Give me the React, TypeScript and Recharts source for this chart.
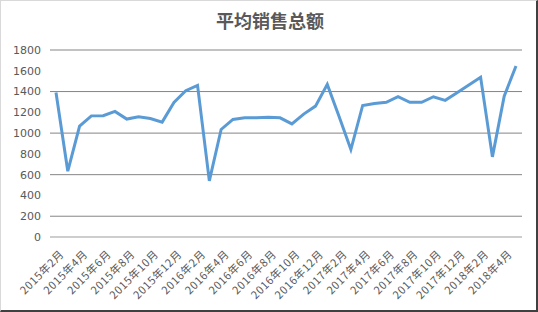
import React from "react";
import { LineChart, Line, XAxis, YAxis, CartesianGrid } from "recharts";

const months: string[] = [
  "2015年2月","2015年3月","2015年4月","2015年5月","2015年6月","2015年7月","2015年8月","2015年9月","2015年10月","2015年11月","2015年12月",
  "2016年1月","2016年2月","2016年3月","2016年4月","2016年5月","2016年6月","2016年7月","2016年8月","2016年9月","2016年10月","2016年11月","2016年12月",
  "2017年1月","2017年2月","2017年3月","2017年4月","2017年5月","2017年6月","2017年7月","2017年8月","2017年9月","2017年10月","2017年11月","2017年12月",
  "2018年1月","2018年2月","2018年3月","2018年4月","2018年5月",
];

const avgSales: number[] = [
  1390, 633, 1067, 1166, 1168, 1209, 1135, 1157, 1141, 1106, 1296,
  1408, 1459, 540, 1035, 1132, 1147, 1147, 1152, 1147, 1089, 1183, 1260,
  1469, 1160, 842, 1266, 1286, 1296, 1350, 1296, 1296, 1350, 1315, 1388,
  1462, 1537, 771, 1356, 1646,
];

const yTicks: number[] = [0, 200, 400, 600, 800, 1000, 1200, 1400, 1600, 1800];

const data = months.map((m, i) => ({ month: m, value: avgSales[i] }));

const XTick = (props: any) => {
  const { x, y, payload } = props;
  return (
    <g transform={`translate(${x + 6},${y + 7})`}>
      <text
        x={0}
        y={0}
        dy={4}
        textAnchor="end"
        fill="#595959"
        fontSize={11}
        letterSpacing={0.6}
        fontFamily="'Noto Sans CJK SC', 'DejaVu Sans', sans-serif"
        transform="rotate(-45)"
      >
        {payload.value}
      </text>
    </g>
  );
};

export default function App() {
  return (
    <div
      style={{
        position: "absolute",
        left: 0,
        top: 0,
        width: 538,
        height: 312,
        background: "#fff",
        boxSizing: "border-box",
        borderLeft: "1px solid #d9d9d9",
        borderTop: "1px solid #d9d9d9",
        borderRight: "2px solid #404040",
        borderBottom: "2px solid #404040",
        overflow: "hidden",
      }}
    >
      <div
        style={{
          position: "absolute",
          left: 0,
          width: 538,
          top: 7,
          textAlign: "center",
          fontFamily: "'Noto Sans CJK SC', sans-serif",
          fontWeight: "bold",
          fontSize: 18,
          color: "#595959",
          lineHeight: "24px",
        }}
      >
        平均销售总额
      </div>
      <div style={{ position: "absolute", left: -1, top: -1 }}>
        <LineChart
          width={538}
          height={312}
          data={data}
          margin={{ top: 50, right: 16, left: 0, bottom: 0 }}
        >
          <CartesianGrid vertical={false} stroke="#858585" strokeWidth={1} />
          <XAxis
            dataKey="month"
            interval={1}
            tick={<XTick />}
            tickLine={false}
            axisLine={{ stroke: "#d9d9d9" }}
            height={75}
            padding={{ left: 6, right: 6 }}
          />
          <YAxis
            domain={[0, 1800]}
            ticks={yTicks}
            width={50}
            tickLine={false}
            axisLine={false}
            tickSize={0}
            tickMargin={9}
            tick={{ fill: "#595959", fontSize: 11, fontFamily: "'DejaVu Sans', sans-serif" }}
          />
          <Line
            type="linear"
            dataKey="value"
            stroke="#5b9bd5"
            strokeWidth={3}
            dot={false}
            isAnimationActive={false}
          />
        </LineChart>
      </div>
    </div>
  );
}
